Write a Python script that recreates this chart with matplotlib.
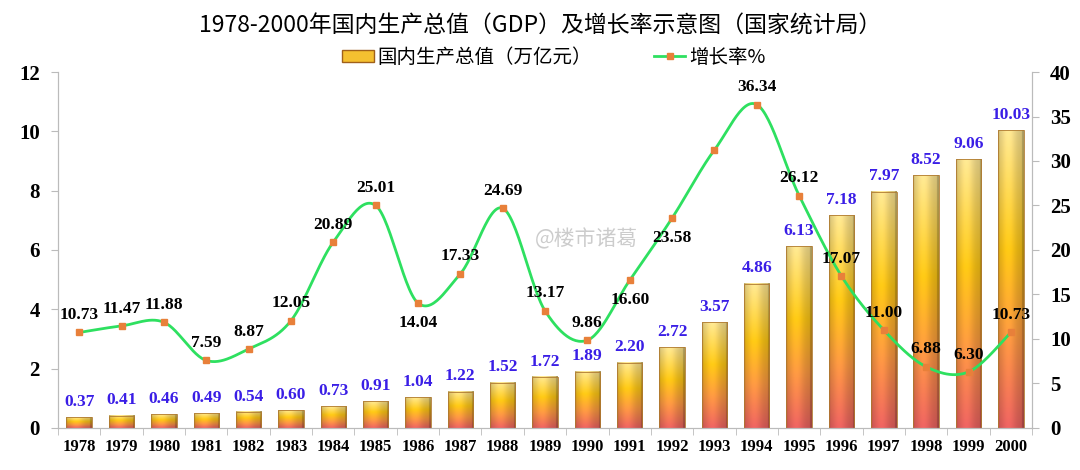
import numpy as np
import matplotlib
matplotlib.use('Agg')
import matplotlib.pyplot as plt
from matplotlib.patches import Rectangle, Patch
from matplotlib.lines import Line2D
from matplotlib.colors import LinearSegmentedColormap

# 数据
years = ['1978', '1979', '1980', '1981', '1982', '1983', '1984', '1985', '1986', '1987', '1988', '1989',
         '1990', '1991', '1992', '1993', '1994', '1995', '1996', '1997', '1998', '1999', '2000']
gdp = [0.37, 0.41, 0.46, 0.49, 0.54, 0.60, 0.73, 0.91, 1.04, 1.22, 1.52, 1.72,
       1.89, 2.20, 2.72, 3.57, 4.86, 6.13, 7.18, 7.97, 8.52, 9.06, 10.03]
growth = [10.73, 11.47, 11.88, 7.59, 8.87, 12.05, 20.89, 25.01, 14.04, 17.33, 24.69, 13.17,
          9.86, 16.60, 23.58, 31.24, 36.34, 26.12, 17.07, 11.00, 6.88, 6.30, 10.73]
growth_labels = ['10.73', '11.47', '11.88', '7.59', '8.87', '12.05', '20.89', '25.01', '14.04', '17.33',
                 '24.69', '13.17', '9.86', '16.60', '23.58', '', '36.34', '26.12', '17.07', '11.00',
                 '6.88', '6.30', '10.73']
below = ['1986', '1991', '1992']   # 标签在点下方的年份

plt.rcParams['font.family'] = ['Noto Sans CJK SC', 'DejaVu Sans']
num_font = dict(family='Liberation Serif', weight='bold')

fig = plt.figure(figsize=(10.8, 4.7), dpi=100)
ax = fig.add_axes([0.0537, 0.0894, 0.9019, 0.7574])
ax2 = ax.twinx()

x = np.arange(len(years))
w = 0.6

# 渐变柱子
cmap = LinearSegmentedColormap.from_list('bar', [(0.0, '#e5605e'), (0.3, '#f59440'),
                                                 (0.6, '#f8c214'), (1.0, '#f7e08e')])
ny, nx = 200, 40
vert = cmap(np.linspace(0, 1, ny))[:, :3]
hx = np.linspace(0, 1, nx)
shade = 0.85 + 0.2 * np.exp(-((hx - 0.4) / 0.3) ** 2)
shade[-3:] *= 0.8
shade[:2] *= 0.88
for xi, h in zip(x, gdp):
    img = np.clip(vert[::-1, None, :] * shade[None, :, None], 0, 1)
    ax.imshow(img, extent=[xi - w / 2, xi + w / 2, 0, h], aspect='auto', zorder=2, interpolation='bilinear')
    ax.add_patch(Rectangle((xi - w / 2, 0), w, h, fill=False, edgecolor='#b07a30', lw=0.6, zorder=3))
    ax.text(xi, h + 0.25, f'{h:.2f}', ha='center', va='bottom', color='#3a1ee6', fontsize=12.5, zorder=5, **num_font)

ax.set_xlim(-0.5, len(years) - 0.5)
ax.set_ylim(0, 12)
ax.set_yticks(range(0, 13, 2))
ax.set_xticks(x)
ax.set_xticklabels(years)
ax.set_xticks(np.arange(-0.5, len(years), 1), minor=True)
ax.tick_params(axis='x', which='major', length=0, pad=8)
ax.tick_params(axis='x', which='minor', length=5, color='#bbbbbb')
ax.tick_params(axis='y', length=5, color='#bbbbbb', pad=8)
for lab in ax.get_xticklabels():
    lab.set_fontfamily('Liberation Serif'); lab.set_fontweight('bold'); lab.set_fontsize(12)
for lab in ax.get_yticklabels():
    lab.set_fontfamily('Liberation Serif'); lab.set_fontweight('bold'); lab.set_fontsize(15)

# 平滑曲线 (Catmull-Rom)
px = np.concatenate([[x[0]], x, [x[-1]]]).astype(float)
py = np.concatenate([[growth[0]], growth, [growth[-1]]])
sx, sy = [], []
t = np.linspace(0, 1, 30)
for i in range(1, len(px) - 2):
    for arr, p in ((sx, px), (sy, py)):
        p0, p1, p2, p3 = p[i - 1], p[i], p[i + 1], p[i + 2]
        arr.extend(0.5 * (2 * p1 + (-p0 + p2) * t + (2 * p0 - 5 * p1 + 4 * p2 - p3) * t ** 2
                          + (-p0 + 3 * p1 - 3 * p2 + p3) * t ** 3))
ax2.plot(sx, sy, color='#2ee060', lw=2, zorder=4)
ax2.plot(x, growth, 's', color='#e8803a', ms=5, zorder=5)
for xi, yr, g, lab in zip(x, years, growth, growth_labels):
    if not lab:
        continue
    off = -14.5 if yr in below else 12.5
    ax2.annotate(lab, (xi, g), xytext=(0, off), textcoords='offset points', ha='center', va='center',
                 fontsize=12.5, color='black', zorder=6, **num_font)

ax2.set_ylim(0, 40)
ax2.set_yticks(range(0, 41, 5))
ax2.tick_params(axis='y', length=5, color='#bbbbbb', pad=8)
for lab in ax2.get_yticklabels():
    lab.set_fontfamily('Liberation Serif'); lab.set_fontweight('bold'); lab.set_fontsize(15)

for a in (ax, ax2):
    a.spines['top'].set_visible(False)
    for s in ('left', 'right', 'bottom'):
        a.spines[s].set_color('#bbbbbb')

# 水印
ax.text(0.543, 0.53, '@楼市诸葛', transform=ax.transAxes, fontsize=15, color='#cccccc',
        ha='center', va='center', zorder=1)

fig.text(0.5, 0.945, '1978-2000年国内生产总值（GDP）及增长率示意图（国家统计局）',
         ha='center', va='center', fontsize=16.5)
handles = [Patch(facecolor='#f5c030', edgecolor='#a0601a'),
           Line2D([], [], color='#2ee060', lw=2, marker='s', ms=5, mfc='#e8803a', mec='#e8803a')]
fig.legend(handles, ['国内生产总值（万亿元）', '增长率%'], loc='center', bbox_to_anchor=(0.513, 0.878),
           ncol=2, frameon=False, fontsize=14, columnspacing=3.2, handlelength=1.6, handleheight=0.6,
           handletextpad=0.2)

fig.savefig('out.png', dpi=100)
